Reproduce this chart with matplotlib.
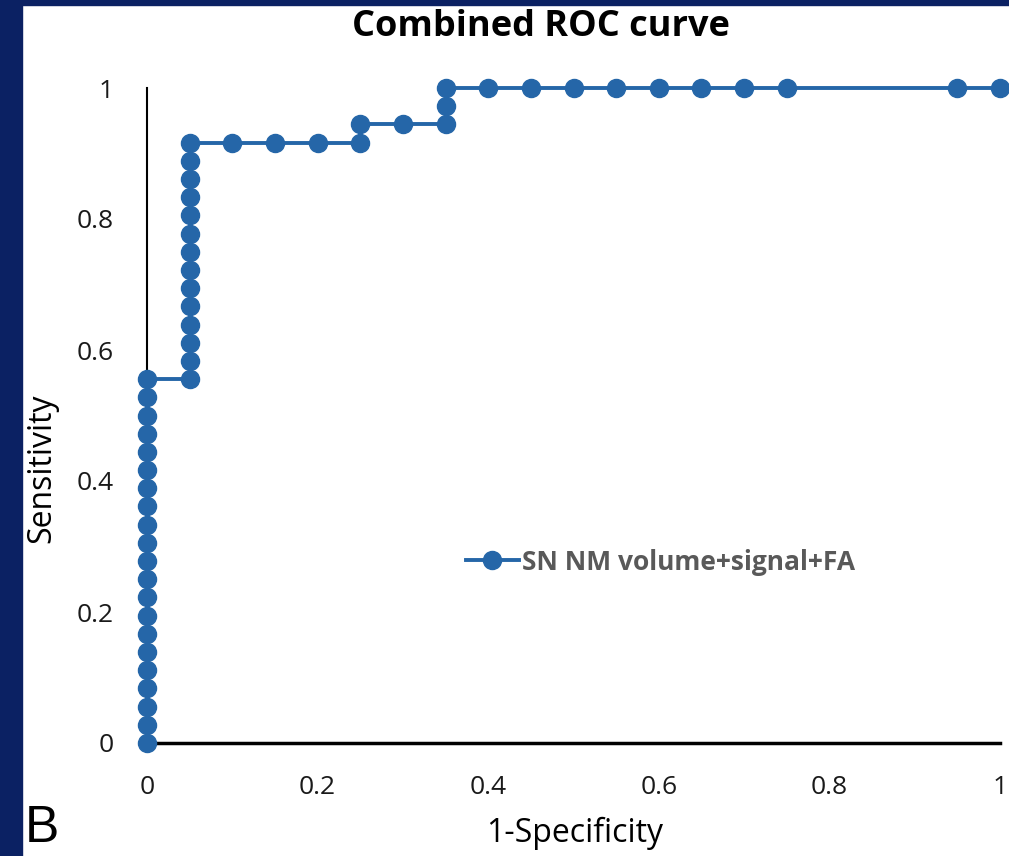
import numpy as np
import matplotlib.pyplot as plt
from matplotlib.patches import Rectangle

# ROC points (1-specificity, sensitivity)
fpr = [0.0] * 21 + [0.05] * 14 + [0.10, 0.15, 0.20, 0.25, 0.25, 0.30, 0.35, 0.35, 0.35,
       0.40, 0.45, 0.50, 0.55, 0.60, 0.65, 0.70, 0.75, 0.95, 1.0]
tpr_steps = list(range(0, 21)) + list(range(20, 34)) + [33, 33, 33, 33, 34, 34, 34, 35, 36,
             36, 36, 36, 36, 36, 36, 36, 36, 36, 36]
tpr = [k / 36 for k in tpr_steps]

xticks = [0, 0.2, 0.4, 0.6, 0.8, 1]
xtick_labels = ['0', '0.2', '0.4', '0.6', '0.8', '1']
yticks = [0, 0.2, 0.4, 0.6, 0.8, 1]
ytick_labels = ['0', '0.2', '0.4', '0.6', '0.8', '1']

blue = '#2566a8'
navy = '#0b2163'
font = 'Open Sans'

fig = plt.figure(figsize=(10.09, 8.56), dpi=100)
fig.patches.append(Rectangle((0, 0), 22 / 1009, 1, transform=fig.transFigure,
                             color=navy, zorder=-1))
fig.patches.append(Rectangle((0, 1 - 5 / 856), 1, 5 / 856, transform=fig.transFigure,
                             color=navy, zorder=-1))

ax = fig.add_axes([147 / 1009, 113 / 856, 853 / 1009, 655 / 856])
ax.plot(fpr, tpr, color=blue, lw=2.8, marker='o', ms=13, clip_on=False, zorder=3,
        label='SN NM volume+signal+FA')

ax.set_xlim(0, 1)
ax.set_ylim(0, 1)
for s in ['top', 'right']:
    ax.spines[s].set_visible(False)
ax.spines['left'].set_linewidth(1.5)
ax.spines['bottom'].set_linewidth(2.5)
ax.tick_params(length=0, labelsize=19, labelcolor='#1a1a1a')
ax.tick_params(axis='x', pad=23)
ax.tick_params(axis='y', pad=24)
ax.set_xticks(xticks, xtick_labels, fontfamily=font)
ax.set_yticks(yticks, ytick_labels, fontfamily=font)

fig.text(575 / 1009, 1 - 833 / 856, '1-Specificity', fontsize=23, fontfamily=font,
         ha='center', va='center')
fig.text(42 / 1009, 1 - 468 / 856, 'Sensitivity', rotation=90, fontsize=23,
         fontfamily=font, ha='center', va='center')
fig.text(541 / 1009, 1 - 27 / 856, 'Combined ROC curve', fontsize=26, fontweight='bold',
         fontfamily=font, ha='center', va='center')
fig.text(42 / 1009, 1 - 828 / 856, 'B', fontsize=37, fontfamily='Liberation Sans',
         ha='center', va='center')

leg = ax.legend(loc='center left', bbox_to_anchor=(295 / 853, 1 - (562 - 88) / 655),
                frameon=False, handlelength=2.0, handletextpad=0.15,
                prop={'family': font, 'weight': 'bold', 'size': 19})
for t in leg.get_texts():
    t.set_color('#595959')

fig.savefig('out.png', dpi=100, facecolor='white')
